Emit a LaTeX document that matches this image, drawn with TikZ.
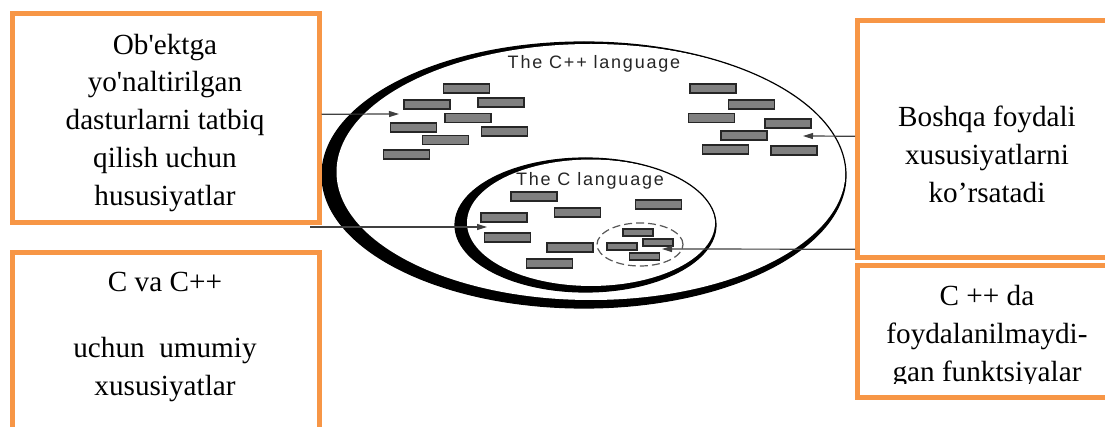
\documentclass[tikz,border=0pt]{standalone}
\usepackage{fontspec}
\setmainfont{Liberation Serif}
\newfontfamily\langfont[LetterSpace=10]{Liberation Sans}
\usetikzlibrary{arrows.meta}
\definecolor{boxorange}{HTML}{F79646}
\tikzset{
  notebox/.style={draw=boxorange, line width=2.5pt, fill=white, inner sep=0pt},
  notetext/.style={align=center, inner sep=0pt, font=\fontsize{14.6}{18.9}\selectfont},
  blk/.style={draw=black!85, fill=black!50, line width=0.6pt, inner sep=0pt, minimum width=23pt, minimum height=4.5pt},
  smallblk/.style={blk, minimum width=15pt, minimum height=3.5pt},
  pointer/.style={draw=black!75, line width=0.6pt, -{Triangle[length=5pt,width=3pt]}},
  langlabel/.style={anchor=base, inner sep=0pt, text=black!85, font=\langfont\fontsize{9}{10}\selectfont}
}
\begin{document}
\begin{tikzpicture}[x=0.5pt,y=-0.5pt]
  \useasboundingbox (0,0) rectangle (1105,427);
  \clip (0,0) rectangle (1105,427);

  % The C++ language (outer set)
  \fill (584,175) ellipse [x radius=131pt, y radius=66.5pt];
  \fill[white] (591,172) ellipse [x radius=127.25pt, y radius=64pt];
  \draw[line width=0.6pt] (584,175) ellipse [x radius=131pt, y radius=66.5pt];
  \node[langlabel] (cpplang) at (594,69) {The C++ language};

  % The C language (inner set)
  \fill (585.5,225) ellipse [x radius=65.25pt, y radius=33.5pt];
  \fill[white] (591,222.75) ellipse [x radius=62pt, y radius=31.6pt];
  \draw[line width=0.6pt] (585.5,225) ellipse [x radius=65.25pt, y radius=33.5pt];
  \node[langlabel] (clang) at (590,186) {The C language};

  % Unused C functions
  \draw[black!65, line width=0.6pt, dash pattern=on 4pt off 2pt] (640,244.5) ellipse [x radius=21.5pt, y radius=10.75pt];

  % Features
  \foreach \x/\y [count=\i] in {466.5/88.5, 427/104.5, 501/102.5, 468/118, 413.5/127.5,
      504.5/131.5, 445.5/140, 406.5/154.5, 713/88.5, 751.5/104.5, 711.5/118, 788/123.5,
      744/135.5, 725.5/149.5, 794/150.5, 534/196.5, 504/217.5, 577.5/212.5, 658.5/204.5,
      507.5/237.5, 570/247.5, 549.5/263.5}
    \node[blk] (f\i) at (\x,\y) {};
  \foreach \x/\y [count=\i] in {638/232.5, 658/242.5, 622/246.5, 644.5/256.5}
    \node[smallblk] (u\i) at (\x,\y) {};

  % Note boxes
  \node[notebox, minimum width=153.5pt, minimum height=104.25pt] (oop) at (165.5,118.25) {};
  \node[notebox, minimum width=153.5pt, minimum height=103.75pt] (common) at (165.5,356.25) {};
  \node[notebox, minimum width=136.25pt, minimum height=118.25pt] (other) at (993.75,139.25) {};
  \node[notebox, minimum width=136.25pt, minimum height=66pt] (unused) at (993.75,331.5) {};

  \node[notetext] (ooptext) at (165,122.7) {Ob\textquotesingle ektga\\yo\textquotesingle naltirilgan\\dasturlarni tatbiq\\qilish uchun\\hususiyatlar};
  \node[notetext] (commontext) at (165,336.8) {C va C++\\[14pt]uchun\ \ umumiy\\xususiyatlar};
  \node[notetext] (othertext) at (987,154.5) {Boshqa foydali\\xususiyatlarni\\ko’rsatadi};
  \begin{scope}
    \clip (860,268) rectangle (1105,384);
    \node[notetext] (unusedtext) at (987,336.7) {C ++ da\\foydalanilmaydi-\\gan funktsiyalar};
  \end{scope}

  % Pointers
  \coordinate (oopend) at (399,114);
  \coordinate (cstart) at (310,227);
  \coordinate (cend) at (487,227);
  \coordinate (otherend) at (803,136);
  \coordinate (unusedend) at (662,249);
  \draw[pointer] ([yshift=2pt]oop.east) -- (oopend);
  \draw[pointer] (cstart) -- (cend);
  \draw[pointer] ([yshift=1.5pt]other.west) -- (otherend);
  \draw[pointer] ([yshift=-55pt]other.west) -- (unusedend);
\end{tikzpicture}
\end{document}
